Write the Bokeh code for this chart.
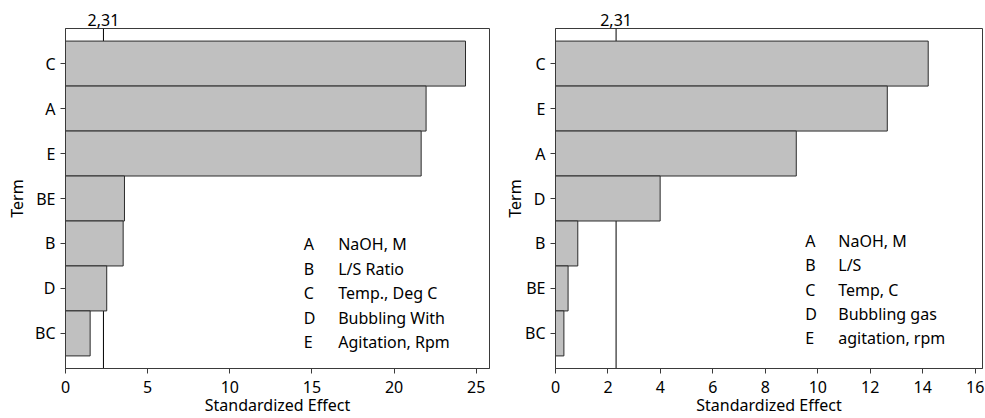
from bokeh.plotting import figure
from bokeh.layouts import row
from bokeh.models import FactorRange, Range1d, Span, FixedTicker, LinearAxis
from bokeh.core.properties import value
from bokeh.embed import file_html
from bokeh.resources import INLINE

# ---- data (terms listed top to bottom) ----
terms_left = ["C", "A", "E", "BE", "B", "D", "BC"]
effects_left = [24.35, 21.95, 21.65, 3.59, 3.51, 2.51, 1.50]

terms_right = ["C", "E", "A", "D", "B", "BE", "BC"]
effects_right = [14.21, 12.65, 9.18, 3.99, 0.85, 0.48, 0.32]

ref_value = 2.31

x_ticks_left = [0, 5, 10, 15, 20, 25]
x_ticks_right = [0, 2, 4, 6, 8, 10, 12, 14, 16]

legend_letters = ["A", "B", "C", "D", "E"]
legend_names_left = ["NaOH, M", "L/S Ratio", "Temp., Deg C", "Bubbling With", "Agitation, Rpm"]
legend_names_right = ["NaOH, M", "L/S", "Temp, C", "Bubbling gas", "agitation, rpm"]

x_label = "Standardized Effect"
y_label = "Term"

FONT = "Noto Sans"
FS = "16px"
FRAME = "#3a3a3a"
PAD = 0.08  # fractional padding of the categorical range


def pareto(terms, effects, x_end, ticks, names, lx_letter, lx_name, ly0, ldy,
           width, mb_left, mb_top, mb_right, term_standoff):
    factors = list(reversed(terms))
    p = figure(width=width, height=418, title=None,
               y_range=FactorRange(factors=factors, range_padding=PAD),
               x_range=Range1d(0, x_end),
               output_backend="svg", toolbar_location=None,
               min_border_left=mb_left, min_border_right=mb_right,
               min_border_top=mb_top, min_border_bottom=49)
    p.background_fill_color = "white"
    p.border_fill_color = "white"
    p.outline_line_color = FRAME
    p.outline_line_width = 1
    p.xgrid.visible = False
    p.ygrid.visible = False

    xa = p.below[0]
    ya = p.left[0]

    p.add_layout(Span(location=ref_value, dimension="height", line_color="black",
                      line_width=1, level="underlay"))

    p.hbar(y=terms, left=0, right=effects, height=1.0,
           fill_color="#C0C0C0", line_color="#2b2b2b", line_width=1)

    # top axis carrying the reference value label
    ref_txt = f"{ref_value:.2f}".replace(".", ",")
    top = LinearAxis(ticker=FixedTicker(ticks=[ref_value]),
                     major_label_overrides={ref_value: ref_txt})
    top.major_tick_in = 0
    top.major_tick_out = 0
    top.minor_tick_line_color = None
    top.axis_line_color = None
    top.major_label_standoff = 3
    top.major_label_text_font = FONT
    top.major_label_text_font_size = FS
    top.major_label_text_color = "black"
    p.add_layout(top, "above")

    ys = [ly0 - i * ldy for i in range(len(legend_letters))]
    p.text(x=[lx_letter] * len(ys), y=ys, text=legend_letters,
           text_font=value(FONT), text_font_size=FS, text_baseline="middle",
           text_align="left", text_color="black")
    p.text(x=[lx_name] * len(ys), y=ys, text=names,
           text_font=value(FONT), text_font_size=FS, text_baseline="middle",
           text_align="left", text_color="black")

    xa.ticker = FixedTicker(ticks=ticks)
    xa.axis_label = x_label
    xa.axis_label_text_font = FONT
    xa.axis_label_text_font_size = FS
    xa.axis_label_text_font_style = "normal"
    xa.axis_label_text_color = "black"
    xa.axis_label_standoff = -2
    xa.major_label_text_font = FONT
    xa.major_label_text_font_size = FS
    xa.major_label_text_color = "black"
    xa.major_label_standoff = 7
    xa.major_tick_in = 0
    xa.major_tick_out = 5
    xa.minor_tick_line_color = None
    xa.axis_line_color = FRAME
    xa.major_tick_line_color = FRAME

    ya.axis_label = y_label
    ya.axis_label_text_font = FONT
    ya.axis_label_text_font_size = FS
    ya.axis_label_text_font_style = "normal"
    ya.axis_label_text_color = "black"
    ya.axis_label_standoff = term_standoff
    ya.major_label_text_font = FONT
    ya.major_label_text_font_size = FS
    ya.major_label_text_color = "black"
    ya.major_label_standoff = 5
    ya.major_tick_in = 0
    ya.major_tick_out = 5
    ya.axis_line_color = FRAME
    ya.major_tick_line_color = FRAME
    return p


left = pareto(terms_left, effects_left, 25.81, x_ticks_left, legend_names_left,
              14.5, 16.6, 2.48, 0.545, width=490, mb_left=65, mb_top=25, mb_right=1,
              term_standoff=4)
right = pareto(terms_right, effects_right, 16.28, x_ticks_right, legend_names_right,
               9.52, 10.78, 2.55, 0.538, width=495, mb_left=65, mb_top=28, mb_right=3,
               term_standoff=-4)

layout = row(left, right, spacing=0)
open("out.html", "w").write(file_html(layout, INLINE))
